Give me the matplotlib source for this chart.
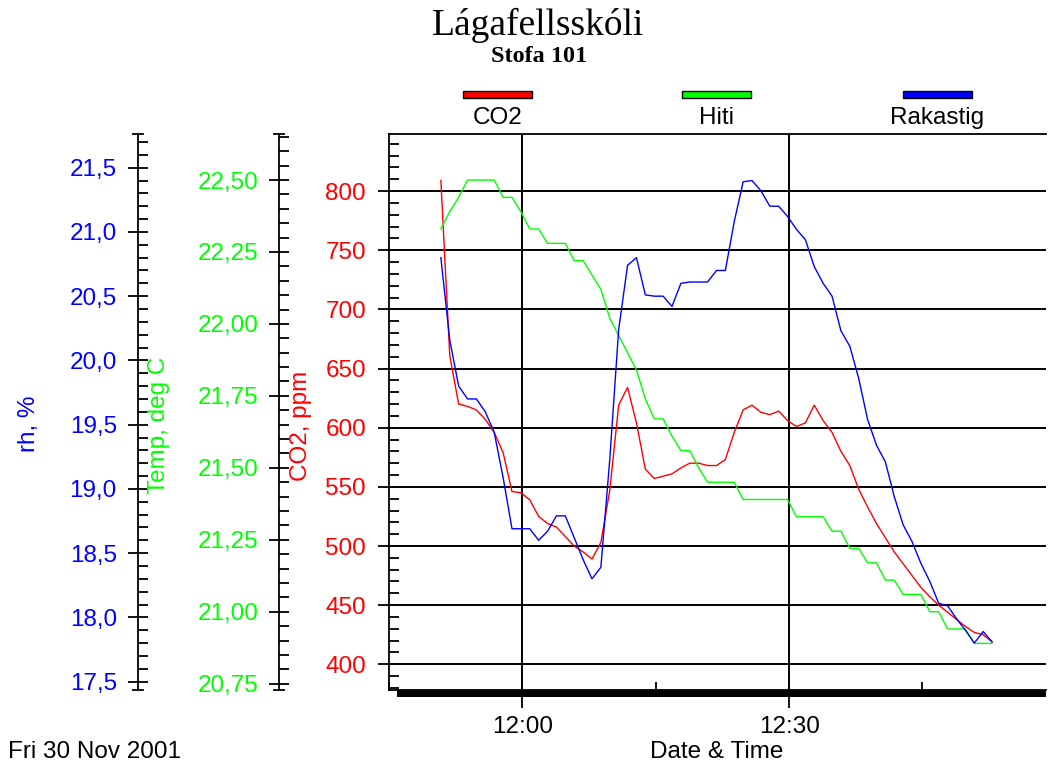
import matplotlib
matplotlib.use("Agg")
import matplotlib.pyplot as plt
import matplotlib.dates as mdates
from matplotlib.ticker import MultipleLocator, FuncFormatter, FixedLocator
from matplotlib.patches import Rectangle
from matplotlib.lines import Line2D
import pandas as pd

# ---------------- data ----------------
title = "Lágafellsskóli"
subtitle = "Stofa 101"
date_label = "Fri 30 Nov 2001"
x_label = "Date & Time"
series_names = ["CO2", "Hiti", "Rakastig"]
axis_labels = ["CO2, ppm", "Temp, deg C", "rh, %"]

start_time = "2001-11-30 11:50:50"
sample_step = "1min"

co2 = [809, 661, 620, 618, 615, 607, 596, 579, 546, 545, 539, 525, 519, 516, 508,
       500, 495, 489, 503, 547, 619, 634, 604, 565, 557, 559, 561, 566, 570, 570,
       568, 568, 573, 596, 615, 619, 613, 611, 614, 606, 601, 604, 619, 606, 596,
       580, 568, 548, 533, 519, 507, 495, 485, 475, 465, 457, 450, 444, 438, 432,
       427, 425, 419]

temp = [22.33, 22.39, 22.44, 22.50, 22.50, 22.50, 22.50, 22.44, 22.44, 22.39,
        22.33, 22.33, 22.28, 22.28, 22.28, 22.22, 22.22, 22.17, 22.12, 22.02,
        21.96, 21.90, 21.84, 21.74, 21.67, 21.67, 21.61, 21.56, 21.56, 21.50,
        21.45, 21.45, 21.45, 21.45, 21.39, 21.39, 21.39, 21.39, 21.39, 21.39,
        21.33, 21.33, 21.33, 21.33, 21.28, 21.28, 21.22, 21.22, 21.17, 21.17,
        21.11, 21.11, 21.06, 21.06, 21.06, 21.00, 21.00, 20.94, 20.94, 20.94,
        20.89, 20.89, 20.89]

rh = [20.80, 20.16, 19.80, 19.70, 19.70, 19.60, 19.44, 19.09, 18.69, 18.69,
      18.69, 18.60, 18.67, 18.79, 18.79, 18.62, 18.45, 18.30, 18.39, 19.23,
      20.24, 20.74, 20.80, 20.51, 20.50, 20.50, 20.42, 20.60, 20.61, 20.61,
      20.61, 20.70, 20.70, 21.08, 21.39, 21.40, 21.32, 21.20, 21.20, 21.12,
      21.02, 20.94, 20.73, 20.60, 20.50, 20.23, 20.11, 19.86, 19.54, 19.34,
      19.21, 18.94, 18.72, 18.59, 18.42, 18.28, 18.11, 18.09, 17.99, 17.90,
      17.80, 17.89, 17.81]

x_range = ["2001-11-30 11:45:00", "2001-11-30 12:58:54"]
x_major = ["2001-11-30 12:00", "2001-11-30 12:30"]
x_minor = ["2001-11-30 11:45", "2001-11-30 12:15", "2001-11-30 12:45"]

co2_ticks = [400, 450, 500, 550, 600, 650, 700, 750, 800]
temp_ticks = [20.75, 21.00, 21.25, 21.50, 21.75, 22.00, 22.25, 22.50]
rh_ticks = [17.5, 18.0, 18.5, 19.0, 19.5, 20.0, 20.5, 21.0, 21.5]
co2_lim = (378.3, 848.2)
temp_lim = (20.728, 22.660)
rh_lim = (17.435, 21.762)

# ---------------- style ----------------
RED, GREEN, BLUE = "#FF0000", "#00FF00", "#0000FF"
SANS = ["Liberation Sans", "DejaVu Sans"]
SERIF = ["Liberation Serif", "DejaVu Serif"]
plt.rcParams["font.family"] = SANS
FS = 17.5

W_PX, H_PX = 1048, 767
fig = plt.figure(figsize=(W_PX / 100, H_PX / 100), dpi=100)

def fx(x):
    return x / W_PX

def fy(y):
    return 1 - y / H_PX

ax_left, ax_right, ax_top, ax_bottom = 389, 1046, 134, 690
ax = fig.add_axes([fx(ax_left), fy(ax_bottom), fx(ax_right - ax_left),
                   (ax_bottom - ax_top) / H_PX])

times = pd.date_range(start_time, periods=len(co2), freq=sample_step)

ax.plot(times, co2, color=RED, lw=1.0, zorder=3)
ax.set_xlim(pd.Timestamp(x_range[0]), pd.Timestamp(x_range[1]))
ax.set_ylim(*co2_lim)
ax.yaxis.set_major_locator(FixedLocator(co2_ticks))
ax.yaxis.set_minor_locator(MultipleLocator(10))
ax.yaxis.set_major_formatter(FuncFormatter(lambda v, p: f"{v:.0f}"))
ax.xaxis.set_major_locator(FixedLocator(mdates.date2num(pd.to_datetime(x_major))))
ax.xaxis.set_minor_locator(FixedLocator(mdates.date2num(pd.to_datetime(x_minor))))
ax.xaxis.set_major_formatter(mdates.DateFormatter("%H:%M"))
ax.grid(which="major", axis="both", color="black", lw=1.4)
ax.set_axisbelow(True)
ax.spines["right"].set_visible(False)
for s in ("left", "top", "bottom"):
    ax.spines[s].set_linewidth(1.3)

ax.tick_params(axis="y", which="major", direction="out", length=8, width=1.3,
               labelcolor=RED, labelsize=FS, pad=8.5)
ax.tick_params(axis="y", which="minor", direction="in", length=7, width=1.3)
ax.tick_params(axis="x", which="major", direction="out", length=13, width=1.3,
               labelsize=FS, pad=5.5)
ax.tick_params(axis="x", which="minor", direction="in", length=6, width=1.3)

# thick bar along the bottom
ax.add_patch(Rectangle(((397 - ax_left) / (ax_right - ax_left), -7 / (ax_bottom - ax_top)),
                       1 - (397 - ax_left) / (ax_right - ax_left), 7 / (ax_bottom - ax_top),
                       transform=ax.transAxes, facecolor="black", edgecolor="none",
                       clip_on=False, zorder=5))

def side_axis(values, color, lim, ticks, minor, fmt, spine_px):
    a = ax.twinx()
    a.plot(times, values, color=color, lw=1.0, zorder=3)
    a.set_ylim(*lim)
    a.yaxis.set_major_locator(FixedLocator(ticks))
    a.yaxis.set_minor_locator(MultipleLocator(minor))
    a.yaxis.set_major_formatter(FuncFormatter(fmt))
    a.yaxis.tick_left()
    for s in ("right", "top", "bottom"):
        a.spines[s].set_visible(False)
    a.spines["left"].set_visible(True)
    a.spines["left"].set_linewidth(1.3)
    a.spines["left"].set_position(("axes", (spine_px - ax_left) / (ax_right - ax_left)))
    a.tick_params(axis="y", which="major", direction="inout", length=15, width=1.3,
                  labelcolor=color, labelsize=FS, pad=7.5, left=True, right=False,
                  labelleft=True, labelright=False)
    a.tick_params(axis="y", which="minor", direction="in", length=7, width=1.3,
                  left=True, right=False)
    for yy in (ax_top, ax_bottom):
        fig.add_artist(Line2D([fx(spine_px - 5), fx(spine_px + 5)], [fy(yy), fy(yy)],
                              color="black", lw=1.3))
    return a

ax_t = side_axis(temp, GREEN, temp_lim, temp_ticks, 0.05,
                 lambda v, p: f"{v:.2f}".replace(".", ","), 279.3)
ax_rh = side_axis(rh, BLUE, rh_lim, rh_ticks, 0.1,
                  lambda v, p: f"{v:.1f}".replace(".", ","), 137.7)

# axis titles
fig.text(fx(29), fy(424), axis_labels[2], rotation=90, color=BLUE, fontsize=FS,
         ha="center", va="center")
fig.text(fx(159), fy(425), axis_labels[1], rotation=90, color=GREEN, fontsize=FS,
         ha="center", va="center")
fig.text(fx(301), fy(426), axis_labels[0], rotation=90, color=RED, fontsize=FS,
         ha="center", va="center")

fig.text(fx(8), fy(752), date_label, fontsize=FS, ha="left", va="center")
fig.text(fx(717), fy(752), x_label, fontsize=FS, ha="center", va="center")

# titles
fig.text(fx(538), fy(25), title, family=SERIF, fontsize=27, ha="center", va="center")
fig.text(fx(539), fy(56), subtitle, family=SERIF, fontsize=17.5, fontweight="bold",
         ha="center", va="center")

# legend
leg_centers = [497.5, 716.5, 937]
for name, color, cx in zip(series_names, [RED, GREEN, BLUE], leg_centers):
    fig.add_artist(Rectangle((fx(cx - 34.5), fy(98)), fx(69), 7 / H_PX,
                             transform=fig.transFigure, facecolor=color,
                             edgecolor="black", lw=1.0))
    fig.text(fx(cx), fy(118), name, fontsize=FS, ha="center", va="center")

fig.savefig("out.png", dpi=100)
